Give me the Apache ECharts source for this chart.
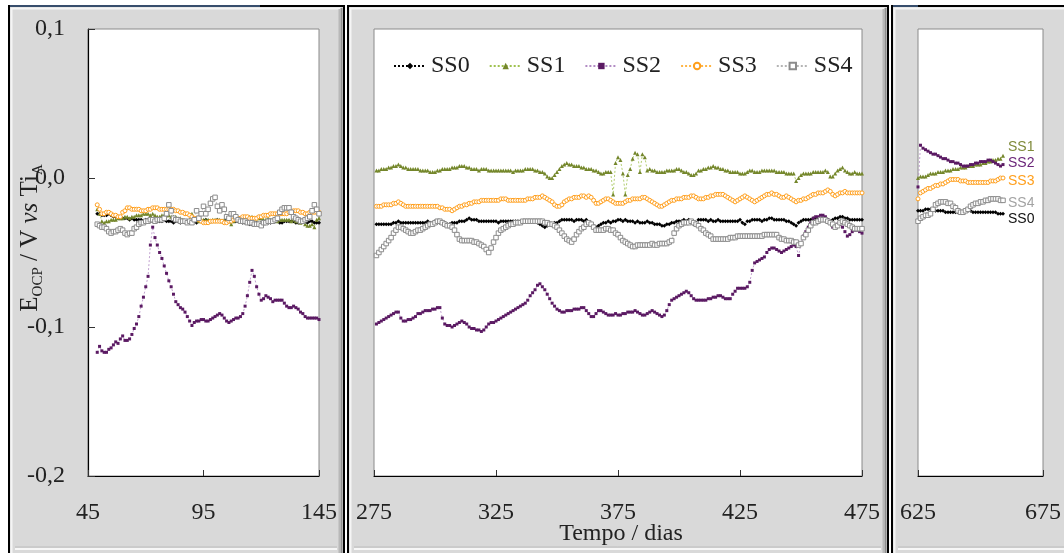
<!DOCTYPE html>
<html>
<head>
<meta charset="utf-8">
<title>E_OCP vs Tempo</title>
<script src="https://cdn.jsdelivr.net/npm/echarts@6.0.0/dist/echarts.min.js"></script>
<style>
  html, body { margin: 0; padding: 0; background: #ffffff; }
  #chart { width: 1064px; height: 553px; }
</style>
</head>
<body>
<div id="chart"></div>
<script>
// Open-circuit potential (mV vs Ti_A), one reading per day, three time windows.
const seriesNames = ['SS0', 'SS1', 'SS2', 'SS3', 'SS4'];

// first day of each window
const startP1 = 49;
const startP2 = 276;
const startP3 = 625;

// axis ranges and tick labels (days)
const xRangeP1 = [45, 145];
const xRangeP2 = [275, 475];
const xRangeP3 = [625, 675];
const xTicksP1 = [45, 95, 145];
const xTicksP2 = [275, 325, 375, 425, 475];
const xTicksP3 = [625, 675];
const yTicks = [-0.2, -0.1, 0, 0.1];

// ---- window 1: days 49..145 (mV) ----
const ss0_p1 = [-24,-24,-25,-25,-25,-24,-25,-26,-26,-26,-27,-27,-27,-27,-28,-27,-28,-28,-28,-28,-29,-28,-28,-29,-29,-28,-29,-29,-29,-28,-29,-29,-29,-30,-29,-29,-30,-29,-29,-30,-30,-29,-29,-30,-29,-29,-29,-28,-29,-29,-29,-29,-28,-29,-29,-29,-28,-28,-29,-29,-29,-29,-29,-30,-30,-30,-31,-31,-30,-30,-31,-30,-29,-29,-30,-30,-29,-29,-29,-30,-30,-29,-29,-29,-29,-29,-30,-30,-29,-29,-29,-30,-29,-29,-30,-30,-30];
const ss1_p1 = [-21,-24,-29,-30,-29,-29,-28,-28,-28,-27,-27,-27,-26,-26,-27,-26,-26,-25,-25,-25,-24,-24,-24,-25,-24,-25,-26,-26,-25,-25,-25,-25,-26,-26,-26,-27,-27,-28,-29,-29,-28,-24,-27,-28,-29,-28,-28,-28,-28,-29,-28,-28,-28,-28,-29,-28,-29,-29,-31,-29,-28,-28,-27,-27,-27,-26,-26,-26,-27,-27,-27,-27,-28,-28,-27,-28,-28,-28,-29,-28,-28,-28,-28,-28,-29,-28,-29,-29,-30,-28,-31,-32,-32,-31,-33,-28,-27];
const ss2_p1 = [-117,-113,-116,-117,-117,-115,-114,-112,-110,-111,-108,-106,-109,-109,-108,-105,-101,-98,-93,-86,-80,-73,-66,-45,-33,-40,-45,-50,-54,-59,-64,-69,-73,-78,-83,-85,-87,-88,-90,-93,-96,-99,-97,-96,-96,-95,-95,-96,-96,-95,-94,-93,-92,-91,-92,-94,-96,-97,-96,-95,-94,-94,-93,-91,-86,-79,-70,-62,-66,-73,-78,-82,-81,-79,-80,-81,-83,-82,-82,-82,-82,-84,-86,-87,-87,-86,-87,-88,-90,-91,-93,-94,-94,-94,-94,-94,-95];
const ss3_p1 = [-18,-21,-24,-24,-23,-23,-24,-25,-25,-26,-26,-23,-22,-20,-20,-21,-21,-21,-21,-22,-22,-22,-21,-21,-20,-20,-20,-21,-21,-21,-21,-21,-21,-21,-22,-22,-23,-23,-24,-24,-25,-26,-27,-27,-28,-29,-30,-30,-30,-29,-29,-29,-29,-29,-29,-30,-30,-29,-29,-28,-28,-27,-27,-26,-26,-26,-27,-27,-27,-27,-26,-26,-25,-25,-25,-24,-24,-24,-24,-24,-24,-24,-24,-23,-23,-22,-22,-22,-23,-23,-24,-24,-23,-23,-23,-23,-23];
const ss4_p1 = [-31,-32,-33,-33,-34,-36,-37,-36,-36,-35,-34,-35,-37,-38,-37,-37,-34,-33,-31,-30,-30,-29,-29,-28,-28,-29,-28,-28,-28,-27,-24,-18,-22,-27,-28,-28,-29,-29,-29,-30,-29,-30,-28,-22,-27,-24,-19,-24,-21,-17,-14,-13,-19,-22,-18,-21,-26,-27,-24,-24,-26,-28,-29,-29,-29,-30,-30,-30,-31,-31,-31,-32,-30,-30,-29,-29,-29,-28,-27,-23,-21,-20,-20,-20,-23,-26,-27,-28,-29,-29,-28,-27,-26,-22,-18,-21,-24];

// ---- window 2: days 276..475 (mV) ----
const ss0_p2 = [
  -31,-31,-31,-31,-31,-31,-31,-30,-30,-29,
  -30,-30,-30,-30,-30,-30,-30,-30,-30,-30,
  -30,-29,-30,-30,-29,-30,-30,-30,-30,-31,
  -31,-30,-30,-30,-29,-29,-29,-28,-27,-28,
  -28,-28,-29,-29,-29,-29,-29,-29,-29,-29,
  -30,-29,-29,-29,-29,-29,-29,-29,-29,-29,
  -29,-29,-29,-29,-29,-29,-30,-31,-32,-33,
  -32,-31,-31,-30,-30,-29,-28,-28,-28,-28,
  -28,-29,-28,-28,-28,-29,-28,-30,-31,-32,
  -33,-32,-31,-30,-30,-29,-30,-29,-29,-28,
  -28,-29,-28,-29,-29,-29,-30,-29,-30,-30,
  -30,-29,-30,-30,-31,-31,-31,-32,-32,-31,
  -31,-30,-30,-29,-29,-29,-28,-29,-28,-29,
  -31,-30,-28,-28,-28,-28,-29,-28,-29,-29,
  -28,-29,-29,-29,-29,-29,-29,-29,-29,-28,
  -30,-31,-29,-29,-28,-28,-28,-28,-29,-28,
  -28,-27,-27,-28,-28,-28,-28,-28,-29,-29,
  -30,-31,-32,-30,-29,-28,-28,-28,-28,-27,
  -27,-27,-28,-27,-28,-28,-29,-28,-27,-27,
  -26,-26,-27,-27,-28,-28,-28,-28,-28,-28];
const ss1_p2 = [
  5,5,6,6,6,7,7,8,8,9,
  8,7,7,6,6,6,6,6,5,5,
  5,5,4,4,4,5,5,6,6,6,
  6,7,7,7,8,8,8,7,7,6,
  6,6,5,6,6,6,5,5,5,5,
  5,5,5,5,5,5,4,5,5,5,
  5,6,6,6,6,5,5,4,4,3,
  1,0,0,2,4,6,8,9,10,9,
  9,8,8,8,7,7,6,6,6,5,
  5,4,3,3,4,4,4,-11,10,14,
  12,3,-11,2,6,13,17,16,4,16,
  14,5,6,5,5,4,4,4,4,5,
  5,5,5,6,6,5,4,4,3,2,
  2,3,5,5,6,6,7,7,8,7,
  7,6,6,5,5,4,4,4,4,3,
  3,3,4,5,5,4,4,4,5,5,
  5,5,5,5,4,4,4,4,3,3,
  3,3,-2,0,2,3,3,3,3,4,
  4,4,4,4,5,4,1,1,3,5,
  6,7,5,4,3,3,4,3,3,3];
const ss2_p2 = [
  -98,-97,-96,-95,-94,-93,-92,-91,-90,-90,
  -94,-96,-96,-95,-95,-94,-93,-91,-91,-90,
  -89,-89,-89,-88,-88,-87,-87,-94,-98,-99,
  -99,-100,-99,-98,-97,-96,-97,-98,-100,-101,
  -101,-102,-102,-103,-102,-100,-98,-97,-97,-96,
  -95,-94,-93,-92,-91,-90,-89,-88,-87,-86,
  -85,-84,-82,-79,-77,-75,-72,-71,-73,-75,
  -78,-81,-84,-86,-88,-89,-90,-90,-89,-89,
  -89,-88,-88,-88,-87,-87,-89,-91,-93,-93,
  -91,-89,-89,-90,-91,-92,-92,-92,-91,-92,
  -92,-91,-91,-90,-90,-90,-89,-90,-91,-92,
  -92,-91,-90,-89,-90,-91,-92,-93,-92,-89,
  -85,-82,-81,-80,-79,-78,-77,-76,-77,-79,
  -81,-82,-82,-82,-82,-82,-81,-81,-80,-80,
  -79,-79,-80,-81,-81,-81,-78,-76,-74,-74,
  -74,-74,-73,-70,-62,-57,-56,-55,-54,-53,
  -50,-48,-47,-47,-48,-49,-50,-49,-48,-47,
  -46,-45,-46,-52,-44,-39,-36,-33,-30,-27,
  -26,-26,-25,-25,-26,-28,-30,-33,-32,-31,
  -31,-33,-36,-39,-38,-36,-35,-35,-36,-37];
const ss3_p2 = [
  -19,-19,-19,-18,-18,-18,-18,-17,-17,-16,
  -17,-18,-19,-19,-19,-19,-19,-19,-19,-19,
  -19,-19,-19,-19,-19,-19,-20,-20,-21,-21,
  -21,-22,-21,-20,-19,-19,-18,-18,-17,-17,
  -16,-16,-16,-15,-15,-15,-15,-15,-15,-15,
  -15,-14,-14,-14,-15,-15,-15,-15,-15,-15,
  -15,-15,-14,-14,-14,-13,-13,-13,-12,-13,
  -14,-15,-16,-18,-19,-19,-18,-16,-15,-14,
  -14,-13,-13,-13,-12,-12,-13,-12,-13,-15,
  -17,-17,-16,-15,-14,-14,-15,-16,-17,-17,
  -17,-17,-16,-15,-15,-14,-14,-14,-14,-13,
  -13,-14,-15,-16,-17,-18,-19,-19,-18,-17,
  -16,-15,-15,-14,-14,-14,-13,-13,-13,-12,
  -12,-13,-14,-14,-14,-13,-13,-12,-12,-11,
  -11,-11,-11,-12,-13,-14,-15,-16,-15,-14,
  -13,-12,-13,-14,-15,-16,-15,-14,-13,-12,
  -11,-11,-10,-11,-11,-12,-13,-13,-12,-13,
  -14,-15,-16,-15,-15,-14,-14,-13,-12,-11,
  -11,-10,-10,-10,-9,-8,-9,-11,-12,-11,
  -10,-10,-9,-10,-10,-10,-10,-10,-10,-10];
const ss4_p2 = [
  -52,-50,-48,-46,-44,-42,-40,-37,-35,-33,
  -33,-34,-35,-36,-37,-37,-36,-35,-35,-34,
  -33,-32,-31,-31,-30,-29,-29,-30,-31,-32,
  -32,-33,-35,-38,-41,-42,-42,-42,-42,-42,
  -43,-43,-44,-45,-46,-48,-50,-47,-43,-40,
  -37,-35,-34,-33,-32,-31,-31,-30,-30,-30,
  -29,-29,-29,-29,-29,-29,-29,-29,-29,-30,
  -30,-31,-31,-32,-33,-35,-37,-39,-41,-42,
  -43,-41,-38,-36,-34,-33,-31,-30,-31,-33,
  -35,-35,-35,-35,-34,-34,-35,-35,-37,-38,
  -40,-42,-43,-44,-45,-46,-46,-45,-45,-45,
  -45,-45,-45,-44,-45,-45,-44,-44,-44,-44,
  -43,-42,-37,-34,-32,-31,-30,-30,-30,-29,
  -30,-31,-32,-34,-35,-37,-38,-39,-41,-41,
  -41,-41,-41,-41,-41,-40,-40,-40,-39,-39,
  -39,-39,-39,-39,-39,-39,-39,-39,-39,-38,
  -38,-38,-38,-38,-38,-40,-41,-41,-42,-42,
  -42,-43,-43,-45,-44,-40,-38,-35,-32,-30,
  -30,-29,-28,-28,-28,-29,-30,-31,-33,-32,
  -30,-29,-30,-31,-32,-33,-34,-34,-34,-34];

// ---- window 3: days 625..659 (mV) ----
const ss0_p3 = [-22,-22,-22,-21,-21,-21,-21,-22,-22,-22,-22,-23,-23,-23,-23,-23,-23,-23,-23,-22,-22,-22,-23,-23,-23,-23,-23,-23,-23,-23,-23,-23,-24,-24,-24];
const ss1_p3 = [0,1,1,1,2,3,3,3,4,4,4,5,5,5,6,6,6,7,7,7,8,8,8,9,9,9,10,10,11,11,12,12,13,13,15];
const ss2_p3 = [-6,22,20,19,18,17,16,16,15,14,13,13,12,11,11,10,10,9,8,8,8,9,9,10,10,11,11,11,12,12,11,10,9,8,9];
const ss3_p3 = [-14,-10,-9,-8,-7,-7,-6,-5,-5,-4,-4,-3,-2,-1,-1,-1,-1,-2,-2,-2,-3,-3,-3,-3,-3,-3,-3,-3,-3,-2,-2,-2,-1,0,0];
const ss4_p3 = [-29,-27,-26,-25,-25,-24,-21,-18,-17,-16,-16,-16,-17,-17,-19,-20,-22,-23,-23,-22,-21,-19,-18,-17,-17,-16,-16,-15,-15,-14,-14,-14,-14,-15,-15];

const windows = [
  { start: startP1, data: [ss0_p1, ss1_p1, ss2_p1, ss3_p1, ss4_p1] },
  { start: startP2, data: [ss0_p2, ss1_p2, ss2_p2, ss3_p2, ss4_p2] },
  { start: startP3, data: [ss0_p3, ss1_p3, ss2_p3, ss3_p3, ss4_p3] }
];

// ---- appearance ----
const SERIF = "'Liberation Serif', 'Times New Roman', serif";
const SANS = "'Liberation Sans', Arial, sans-serif";
const TXT = '#222222';

const look = {
  SS0: { mark: '#000000', line: '#000000', symbol: 'diamond', size: 4, fill: '#000000', labelColor: '#111111', labelDy: 5 },
  SS1: { mark: '#74862b', line: '#9fc24f', symbol: 'triangle', size: 4, fill: '#74862b', labelColor: '#7f8a3a', labelDy: -9 },
  SS2: { mark: '#5b1a63', line: '#b28cc4', symbol: 'rect', size: 3, fill: '#5b1a63', labelColor: '#6b2579', labelDy: -1 },
  SS3: { mark: '#ff9f1c', line: '#ffb545', symbol: 'circle', size: 4, fill: '#ffffff', labelColor: '#ff9f1c', labelDy: 3 },
  SS4: { mark: '#8c8c8c', line: '#b4b4b4', symbol: 'rect', size: 4.5, fill: '#ffffff', labelColor: '#a3a3a3', labelDy: 3 }
};

const gridBoxes = [
  { left: 88, top: 29, width: 231, height: 447 },
  { left: 374, top: 29, width: 488, height: 447 },
  { left: 918, top: 29, width: 125, height: 447 }
];
const xRanges = [xRangeP1, xRangeP2, xRangeP3];
const xTicks = [xTicksP1, xTicksP2, xTicksP3];

const series = [];
windows.forEach((w, p) => {
  w.data.forEach((arr, k) => {
    const name = seriesNames[k];
    const L = look[name];
    const s = {
      name: name,
      type: 'line',
      xAxisIndex: p,
      yAxisIndex: p,
      data: arr.map((mv, i) => [w.start + i, mv / 1000]),
      symbol: L.symbol,
      symbolSize: L.size,
      showAllSymbol: true,
      itemStyle: { color: L.fill, borderColor: L.mark, borderWidth: L.fill === '#ffffff' ? 1 : 0 },
      lineStyle: { color: L.line, width: 0.8, type: [2, 2] },
      emphasis: { disabled: true },
      z: 3
    };
    if (p === 2) {
      s.endLabel = {
        show: true,
        formatter: '{a}',
        color: L.labelColor,
        fontFamily: SANS,
        fontSize: 14,
        distance: 5,
        offset: [0, L.labelDy]
      };
    }
    series.push(s);
  });
});

const fmtY = v => (Math.abs(v) < 1e-9 ? '0,0' : v.toFixed(1).replace('.', ','));

const grids = gridBoxes.map(b => Object.assign({
  show: true, backgroundColor: '#ffffff', borderColor: '#8a8a8a', borderWidth: 1, containLabel: false
}, b));

const xAxes = gridBoxes.map((b, p) => ({
  type: 'value',
  gridIndex: p,
  min: xRanges[p][0],
  max: xRanges[p][1],
  splitLine: { show: false },
  axisLine: { show: true, onZero: false, lineStyle: { color: '#000000', width: 1.2 } },
  axisTick: { show: true, inside: true, length: 6, customValues: xTicks[p], lineStyle: { color: '#333333' } },
  axisLabel: { customValues: xTicks[p], margin: 25, fontFamily: SERIF, fontSize: 24, color: TXT }
}));

const yAxes = gridBoxes.map((b, p) => ({
  type: 'value',
  gridIndex: p,
  min: -0.2,
  max: 0.1,
  show: p === 0,
  splitLine: { show: false },
  axisLine: { show: true, onZero: false, lineStyle: { color: '#000000', width: 1.2 } },
  axisTick: { show: true, inside: true, length: 7, customValues: yTicks, lineStyle: { color: '#333333' } },
  axisLabel: { customValues: yTicks, margin: 23, fontFamily: SERIF, fontSize: 24, color: TXT, formatter: fmtY }
}));

// window-style panel frames behind each plot
function panel(x0, x1) {
  const y0 = 6, y1 = 580;
  return [
    { type: 'rect', shape: { x: x0, y: y0, width: x1 - x0, height: y1 - y0 },
      style: { fill: '#d9d9d9', stroke: '#000000', lineWidth: 2 }, z: -10, silent: true },
    { type: 'polyline', shape: { points: [[x0 + 2.5, y1], [x0 + 2.5, y0 + 2.5], [x1 - 3, y0 + 2.5]] },
      style: { fill: null, stroke: '#f5f5f5', lineWidth: 2 }, z: -9, silent: true },
    { type: 'line', shape: { x1: x1 - 2.5, y1: y0 + 2, x2: x1 - 2.5, y2: y1 },
      style: { stroke: '#8e8e8e', lineWidth: 2 }, z: -9, silent: true },
    { type: 'line', shape: { x1: x1 - 4.5, y1: y0 + 3, x2: x1 - 4.5, y2: y1 },
      style: { stroke: '#b8b8b8', lineWidth: 2 }, z: -9, silent: true },
    { type: 'polyline', shape: { points: [[x0 + 6, 547], [x1 - 7, 547]] },
      style: { fill: null, stroke: '#bdbdbd', lineWidth: 1 }, z: -9, silent: true },
    { type: 'polyline', shape: { points: [[x0 + 6, 549], [x1 - 7, 549]] },
      style: { fill: null, stroke: '#f7f7f7', lineWidth: 2 }, z: -9, silent: true }
  ];
}

const graphics = [].concat(
  panel(9, 344),
  panel(348, 888),
  panel(892, 1090),
  [
    { type: 'line', shape: { x1: 10, y1: 6, x2: 260, y2: 6 }, style: { stroke: '#6f9bd8', lineWidth: 1 }, z: -8, silent: true },
    { type: 'line', shape: { x1: 893, y1: 6, x2: 918, y2: 6 }, style: { stroke: '#6f9bd8', lineWidth: 1 }, z: -8, silent: true },
    {
      type: 'text', x: 30, y: 238, rotation: Math.PI / 2, z: 20, silent: true,
      style: {
        text: '{m|E}{s|OCP}{m| / V }{i|vs}{m| Ti}{s|A}',
        align: 'center', verticalAlign: 'middle',
        rich: {
          m: { fontFamily: SERIF, fontSize: 25, lineHeight: 32, fill: TXT, verticalAlign: 'middle' },
          i: { fontFamily: SERIF, fontSize: 25, fontStyle: 'italic', lineHeight: 32, fill: TXT, verticalAlign: 'middle' },
          s: { fontFamily: SERIF, fontSize: 15, lineHeight: 15, fill: TXT, verticalAlign: 'bottom' }
        }
      }
    },
    {
      type: 'text', x: 621, y: 534, z: 20, silent: true,
      style: { text: 'Tempo / dias', fontFamily: SERIF, fontSize: 24, fill: TXT, align: 'center', verticalAlign: 'middle' }
    }
  ]
);

const chart = echarts.init(document.getElementById('chart'), null, { renderer: 'canvas' });
chart.setOption({
  animation: false,
  backgroundColor: '#ffffff',
  grid: grids,
  xAxis: xAxes,
  yAxis: yAxes,
  legend: {
    data: seriesNames,
    left: 393,
    top: 54,
    padding: 0,
    itemWidth: 32,
    itemHeight: 8,
    itemGap: 19,
    textStyle: { fontFamily: SERIF, fontSize: 24, color: TXT },
    selectedMode: false
  },
  graphic: graphics,
  series: series
});
</script>
</body>
</html>
